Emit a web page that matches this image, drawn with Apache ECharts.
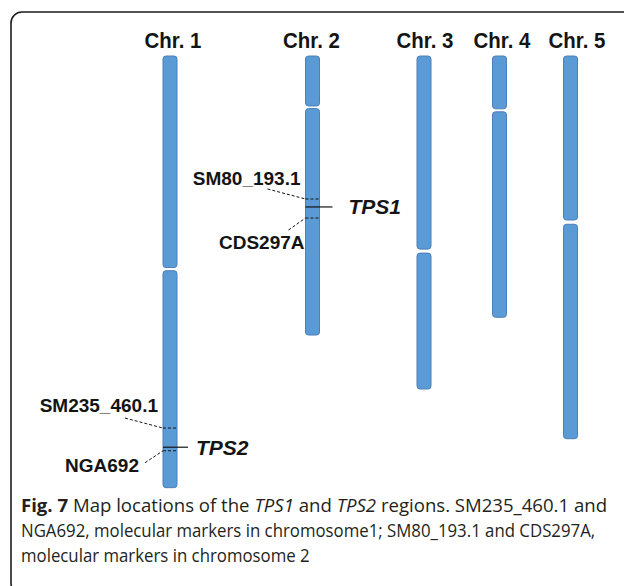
<!DOCTYPE html>
<html>
<head>
<meta charset="utf-8">
<script src="https://cdn.jsdelivr.net/npm/echarts@6/dist/echarts.min.js"></script>
<style>
  html, body { margin: 0; padding: 0; background: #ffffff; }
  #main { width: 624px; height: 586px; }
</style>
</head>
<body>
<div id="main"></div>
<script>
// Arabidopsis chromosome map, positions in Mb from the top of each chromosome
const chromosomes = ['Chr. 1', 'Chr. 2', 'Chr. 3', 'Chr. 4', 'Chr. 5'];
const chrLength  = [30.4, 19.65, 23.45, 18.4, 26.95];
const cenStart   = [14.9, 3.52, 13.6, 3.72, 11.55];
const cenEnd     = [15.12, 3.7, 13.88, 3.93, 11.85];

const markerNames = ['SM235_460.1', 'NGA692', 'SM80_193.1', 'CDS297A'];
const markerChr   = [0, 0, 1, 1];
const markerPos   = [26.2, 27.8, 10.07, 11.41];

const geneNames = ['TPS2', 'TPS1'];
const geneChr   = [0, 1];
const genePos   = [27.55, 10.63];

const captionLines = [
  '{b|Fig. 7} Map locations of the {i|TPS1} and {i|TPS2} regions. SM235_460.1 and',
  'NGA692, molecular markers in chromosome1; SM80_193.1 and CDS297A,',
  'molecular markers in chromosome 2'
];

// ---- layout -------------------------------------------------------------
const columnX = [170, 312.5, 424, 499.5, 570.5];   // column centres (px on a 0..624 x axis)
const titleX  = [173, 311.5, 425, 502, 577];
const BAR_W = 14;
const BAR_FILL = '#5b9bd5';
const BAR_EDGE = '#4a7fb8';
const INK = '#141414';
// marker label placement relative to the marker's point on the left bar edge
const markerLayout = [
  { lx: -38, ly: -10, tx: -5,  ty: -23 },
  { lx: -18, ly: 12,  tx: -24, ty: 15 },
  { lx: -38, ly: -10, tx: -5,  ty: -20 },
  { lx: -17, ly: 12,  tx: -1,  ty: 24 }
];
const geneLayout = [
  { ext: 11, gap: 8 },
  { ext: 13, gap: 16 }
];
// caption text block: left edge, measure of the two full lines
const CAP_LEFT = 21;
const capFullWidth = [586, 575];

const chart = echarts.init(document.getElementById('main'), null, { renderer: 'svg' });

const armData = [];
chromosomes.forEach((name, i) => {
  armData.push([columnX[i], 0, cenStart[i]]);
  armData.push([columnX[i], cenEnd[i], chrLength[i]]);
});

// narrow the caption so the full lines span the text measure
const measureCtx = document.createElement('canvas').getContext('2d');
function measureRich(str, size, family) {
  let w = 0;
  const re = /\{(\w)\|([^}]*)\}|([^{]+)/g;
  let m;
  while ((m = re.exec(str))) {
    if (m[1]) {
      measureCtx.font = (m[1] === 'b' ? 'bold ' : 'italic ') + size + 'px ' + family;
      w += measureCtx.measureText(m[2]).width;
    } else {
      measureCtx.font = size + 'px ' + family;
      w += measureCtx.measureText(m[3]).width;
    }
  }
  return w;
}
const CAP_FONT = '"Open Sans"';
const CAP_SIZE = 18.5;
const capScale = [
  capFullWidth[0] / measureRich(captionLines[0], CAP_SIZE, CAP_FONT),
  capFullWidth[1] / measureRich(captionLines[1], CAP_SIZE, CAP_FONT)
];
capScale.push(capScale[1]);   // last (short) line keeps the second line's set width

const graphics = [
  {
    type: 'rect',
    shape: { x: 11, y: 12, width: 640, height: 582, r: 11 },
    style: { fill: 'none', stroke: '#1c1c1c', lineWidth: 1.6 },
    silent: true
  }
];
captionLines.forEach((line, k) => {
  graphics.push({
    type: 'text',
    x: CAP_LEFT, y: 505 + k * 25,
    scaleX: capScale[k],
    originX: 0, originY: 0,
    style: {
      text: line,
      fontFamily: CAP_FONT,
      fontSize: CAP_SIZE,
      fill: '#231f20',
      verticalAlign: 'middle',
      rich: {
        b: { fontWeight: 'bold', fontFamily: CAP_FONT, fontSize: CAP_SIZE, fill: '#231f20' },
        i: { fontStyle: 'italic', fontFamily: CAP_FONT, fontSize: CAP_SIZE, fill: '#231f20' }
      }
    }
  });
});

chart.setOption({
  animation: false,
  backgroundColor: '#ffffff',
  grid: { left: 0, right: 0, top: 56, height: 31 * 14.2 },
  xAxis: { type: 'value', min: 0, max: 624, show: false },
  yAxis: { type: 'value', min: 0, max: 31, inverse: true, show: false },
  graphic: graphics,
  series: [
    {
      name: 'chromosome arms',
      type: 'custom',
      clip: false,
      data: armData,
      renderItem: function (params, api) {
        const top = api.coord([api.value(0), api.value(1)]);
        const bot = api.coord([api.value(0), api.value(2)]);
        return {
          type: 'rect',
          shape: { x: top[0] - BAR_W / 2, y: top[1], width: BAR_W, height: bot[1] - top[1], r: 3 },
          style: { fill: BAR_FILL, stroke: BAR_EDGE, lineWidth: 1 }
        };
      }
    },
    {
      name: 'titles',
      type: 'custom',
      clip: false,
      data: chromosomes.map((c, i) => [titleX[i], 0]),
      renderItem: function (params, api) {
        const p = api.coord([api.value(0), api.value(1)]);
        return {
          type: 'text',
          x: p[0], y: p[1] - 15,
          scaleX: 0.93,
          style: {
            text: chromosomes[params.dataIndex],
            align: 'center', verticalAlign: 'middle',
            fontFamily: '"Liberation Sans", Arial, sans-serif',
            fontWeight: 'bold', fontSize: 22, fill: INK
          }
        };
      }
    },
    {
      name: 'markers',
      type: 'custom',
      clip: false,
      data: markerPos.map((v, i) => [columnX[markerChr[i]], v]),
      renderItem: function (params, api) {
        const i = params.dataIndex;
        const p = api.coord([api.value(0), api.value(1)]);
        const left = p[0] - BAR_W / 2, right = p[0] + BAR_W / 2;
        const a = markerLayout[i];
        const dash = { stroke: INK, lineWidth: 1, lineDash: [3, 2] };
        return {
          type: 'group',
          children: [
            { type: 'line', shape: { x1: left, y1: p[1], x2: right + 1, y2: p[1] }, style: dash },
            { type: 'line', shape: { x1: left + a.lx, y1: p[1] + a.ly, x2: left, y2: p[1] }, style: dash },
            {
              type: 'text', x: left + a.tx, y: p[1] + a.ty,
              style: {
                text: markerNames[i], align: 'right', verticalAlign: 'middle',
                fontFamily: '"Liberation Sans", Arial, sans-serif',
                fontWeight: 'bold', fontSize: 19, fill: INK
              }
            }
          ]
        };
      }
    },
    {
      name: 'genes',
      type: 'custom',
      clip: false,
      data: genePos.map((v, i) => [columnX[geneChr[i]], v]),
      renderItem: function (params, api) {
        const i = params.dataIndex;
        const p = api.coord([api.value(0), api.value(1)]);
        const left = p[0] - BAR_W / 2, right = p[0] + BAR_W / 2;
        const g = geneLayout[i];
        return {
          type: 'group',
          children: [
            { type: 'line', shape: { x1: left, y1: p[1], x2: right + g.ext, y2: p[1] }, style: { stroke: INK, lineWidth: 1.2 } },
            {
              type: 'text', x: right + g.ext + g.gap, y: p[1],
              style: {
                text: geneNames[i], align: 'left', verticalAlign: 'middle',
                fontFamily: '"Liberation Sans", Arial, sans-serif',
                fontWeight: 'bold', fontStyle: 'italic', fontSize: 21, fill: INK
              }
            }
          ]
        };
      }
    }
  ]
});
</script>
</body>
</html>
